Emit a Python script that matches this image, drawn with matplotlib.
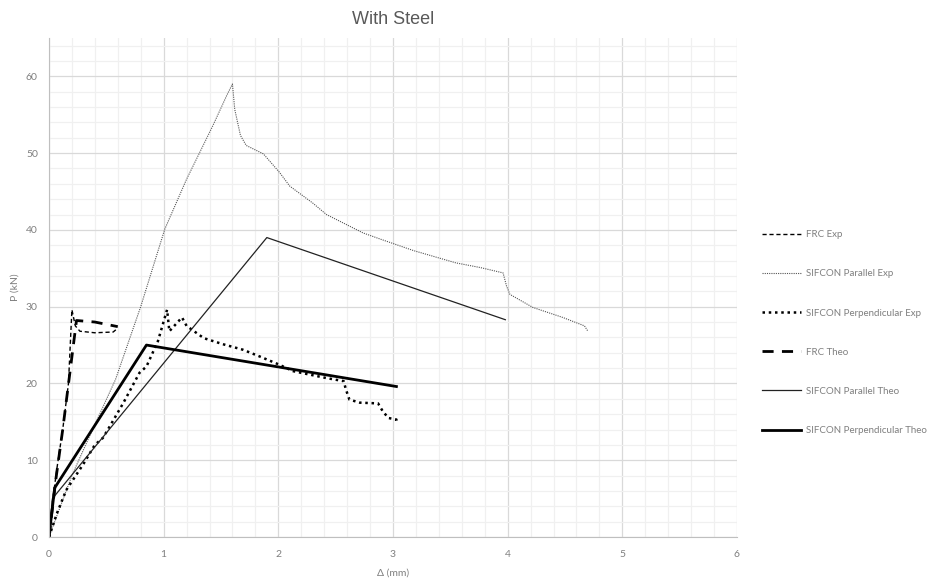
import matplotlib.pyplot as plt
from matplotlib.ticker import MultipleLocator

plt.rcParams['font.family'] = ['Lato', 'DejaVu Sans']

# ---------------- data ----------------#
frc_exp_x = [0, 0.03, 0.07, 0.12, 0.17, 0.2, 0.23, 0.27, 0.4, 0.56, 0.6]
frc_exp_y = [0, 4.5, 9.0, 14.0, 20.0, 29.6, 27.5, 26.8, 26.6, 26.7, 27.2]

par_exp_x = [0, 0.05, 0.1, 0.2, 0.35, 0.58, 0.8, 1.01, 1.2, 1.43, 1.55, 1.6,
             1.62, 1.67, 1.72, 1.87, 2.01, 2.1, 2.3, 2.42, 2.74, 2.89, 3.18,
             3.55, 3.76, 3.96, 3.99, 4.02, 4.22, 4.48, 4.67, 4.7]
par_exp_y = [0, 2.0, 4.0, 8.0, 13.0, 20.5, 30.0, 40.1, 46.6, 53.6, 57.5, 59.0,
             55.7, 52.3, 51.0, 49.9, 47.5, 45.7, 43.5, 42.0, 39.6, 38.8, 37.3,
             35.7, 35.1, 34.4, 32.7, 31.6, 29.9, 28.6, 27.5, 26.8]

perp_exp_x = [0, 0.07, 0.15, 0.3, 0.4, 0.47, 0.53, 0.65, 0.79, 0.85, 0.95, 1.03,
              1.05, 1.16, 1.2, 1.35, 1.52, 1.69, 1.84, 2.0, 2.13, 2.42, 2.57,
              2.59, 2.62, 2.71, 2.87, 2.91, 2.96, 3.03, 3.03]
perp_exp_y = [0, 3.1, 6.1, 9.5, 12.0, 12.9, 14.4, 17.5, 21.4, 22.2, 25.5, 29.6,
              26.8, 28.6, 27.5, 25.9, 25.1, 24.4, 23.5, 22.5, 21.6, 20.7, 20.3,
              19.2, 17.9, 17.5, 17.4, 16.4, 15.5, 15.3, 14.7]

frc_theo_x = [0, 0.06, 0.12, 0.24, 0.4, 0.6]
frc_theo_y = [0, 7.5, 14.0, 28.2, 28.0, 27.4]

par_theo_x = [0, 0.03, 1.9, 3.98]
par_theo_y = [0, 5.0, 39.0, 28.3]

perp_theo_x = [0, 0.05, 0.85, 3.03]
perp_theo_y = [0, 6.4, 25.0, 19.6]

labels = ["FRC Exp", "SIFCON Parallel Exp", "SIFCON Perpendicular Exp",
          "FRC Theo", "SIFCON Parallel Theo", "SIFCON Perpendicular Theo"]

# ---------------- plot ----------------#
fig = plt.figure(figsize=(9.38, 5.83), dpi=100)
ax = fig.add_axes([0.0522, 0.0789, 0.7335, 0.856])

ax.plot(frc_exp_x, frc_exp_y, color="black", lw=1.0, ls=(0, (3, 2)), label=labels[0])
ax.plot(par_exp_x, par_exp_y, color="#555555", lw=0.8, ls=(0, (1, 1)), label=labels[1])
ax.plot(perp_exp_x, perp_exp_y, color="black", lw=1.8, ls=(0, (1, 1.5)), label=labels[2])
ax.plot(frc_theo_x, frc_theo_y, color="black", lw=2.0, ls=(0, (4, 3)), label=labels[3])
ax.plot(par_theo_x, par_theo_y, color="#222222", lw=0.9, label=labels[4])
ax.plot(perp_theo_x, perp_theo_y, color="black", lw=2.0, label=labels[5])

ax.set_xlim(0, 6)
ax.set_ylim(0, 65)
ax.xaxis.set_major_locator(MultipleLocator(1))
ax.xaxis.set_minor_locator(MultipleLocator(0.2))
ax.yaxis.set_major_locator(MultipleLocator(10))
ax.yaxis.set_minor_locator(MultipleLocator(2))
ax.grid(which="major", color="#d9d9d9", lw=0.9)
ax.grid(which="minor", color="#f0f0f0", lw=0.9)
ax.set_axisbelow(True)
for s in ["top", "right"]:
    ax.spines[s].set_visible(False)
ax.spines["left"].set_color("#bfbfbf")
ax.spines["bottom"].set_color("#bfbfbf")
ax.tick_params(which="both", length=0, labelsize=7.5, colors="#7f7f7f")
ax.tick_params(axis="x", pad=9)
ax.tick_params(axis="y", pad=8)

ax.set_xlabel("Δ (mm)", fontsize=7.5, color="#7f7f7f", labelpad=7)
ax.set_ylabel("P (kN)", fontsize=7.5, color="#7f7f7f")
ax.yaxis.set_label_coords(-0.042, 0.5)
ax.set_title("With Steel", fontsize=13, color="#595959", pad=10,
             family=["Liberation Sans", "DejaVu Sans"])

fig.legend(loc="upper left", bbox_to_anchor=(0.803, 0.62), frameon=False,
           fontsize=7, labelcolor="#7f7f7f", handlelength=4.0,
           handletextpad=0.5, labelspacing=3.1)

fig.savefig("out.png", dpi=100)
